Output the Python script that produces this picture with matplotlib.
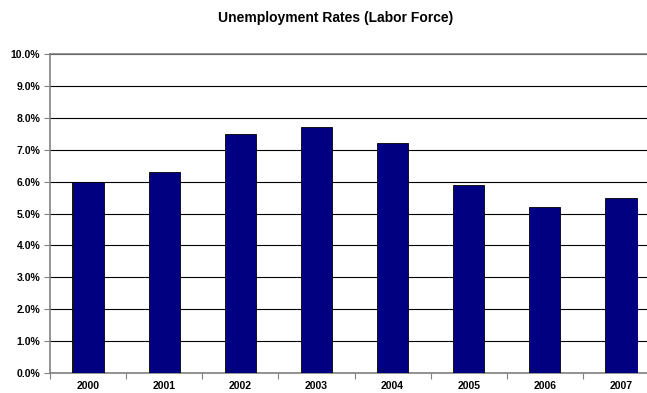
import matplotlib
matplotlib.use("Agg")
import matplotlib.pyplot as plt
from matplotlib.ticker import FixedLocator, PercentFormatter

years = ["2000", "2001", "2002", "2003", "2004", "2005", "2006", "2007"]
rates = [6.0, 6.3, 7.5, 7.7, 7.2, 5.9, 5.2, 5.5]
title = "Unemployment Rates (Labor Force)"

plt.rcParams['font.family'] = ['Liberation Sans', 'DejaVu Sans']

W, H = 647, 393
fig = plt.figure(figsize=(W / 100, H / 100), dpi=100)
left, right, top, bottom = 50, 659, 54, 373
ax = fig.add_axes([left / W, 1 - bottom / H, (right - left) / W, (bottom - top) / H])

x = list(range(len(years)))
ax.bar(x, rates, width=0.41, color="#000080", edgecolor="#000000", linewidth=0.6, zorder=3)

ax.set_xlim(-0.5, len(years) - 0.5)
ax.set_ylim(0, 10)
ax.set_yticks([i for i in range(11)])
ax.yaxis.set_major_formatter(PercentFormatter(xmax=100, decimals=1))
ax.yaxis.grid(True, color="#000000", linewidth=0.8, zorder=1)

ax.set_xticks(x)
ax.set_xticklabels(years)
ax.xaxis.set_minor_locator(FixedLocator([i + 0.5 for i in range(-1, len(years))]))
ax.tick_params(axis='x', which='major', length=0, pad=6)
ax.tick_params(axis='x', which='minor', length=4, width=0.8, color="#808080", direction='out')
ax.tick_params(axis='y', length=4, width=0.8, color="#808080", pad=3, direction='out')
for lab in ax.get_xticklabels() + ax.get_yticklabels():
    lab.set_fontsize(7.5)
    lab.set_fontweight('bold')

for s in ['left', 'bottom']:
    ax.spines[s].set_color("#808080")
    ax.spines[s].set_linewidth(1.2)
ax.spines['top'].set_color("#808080")
ax.spines['top'].set_linewidth(1.2)
ax.spines['right'].set_visible(False)

fig.text(336 / W, 1 - 18 / H, title, ha='center', va='center', fontsize=10, fontweight='bold')

fig.savefig("out.png", dpi=100)
